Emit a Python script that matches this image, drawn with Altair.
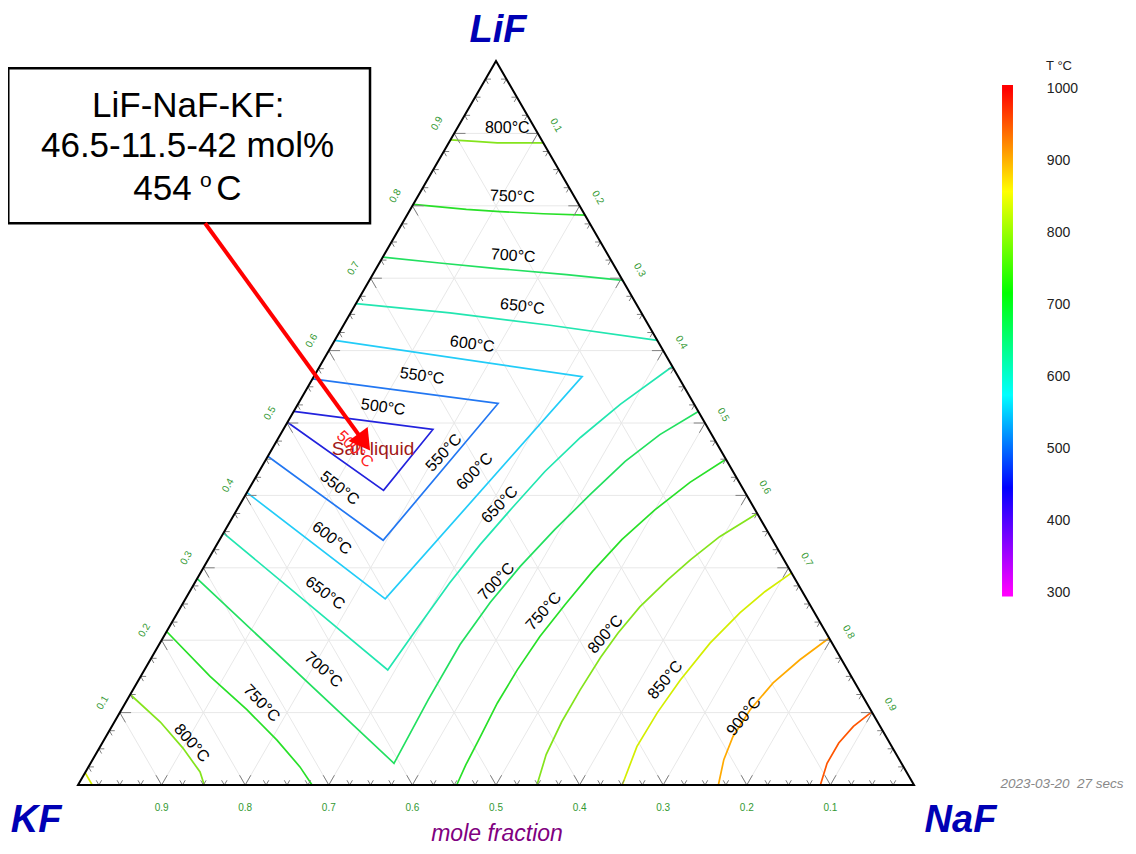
import math
import altair as alt
import pandas as pd

FONT = "Liberation Sans"
S3 = math.sqrt(3) / 2

# ---------------- isotherms: (LiF, NaF) mole fractions ----------------
iso800_top = [(0.891, 0.000), (0.889, 0.031), (0.887, 0.058), (0.887, 0.113)]
iso750_top = [(0.802, 0.000), (0.795, 0.067), (0.792, 0.109), (0.789, 0.162), (0.787, 0.213)]
iso700_top = [(0.729, 0.000), (0.721, 0.072), (0.713, 0.148), (0.705, 0.232), (0.697, 0.303)]
iso650_top = [(0.665, 0.000), (0.652, 0.119), (0.635, 0.247), (0.614, 0.386)]
iso600 = [(0.614, 0.000), (0.564, 0.321), (0.257, 0.239), (0.404, 0.000)]
iso550 = [(0.561, 0.000), (0.527, 0.239), (0.338, 0.196), (0.454, 0.000)]
iso500 = [(0.516, 0.000), (0.491, 0.179), (0.407, 0.162), (0.501, 0.000)]
iso650_low = [(0.578, 0.422), (0.526, 0.386), (0.480, 0.361), (0.433, 0.342), (0.383, 0.328),
              (0.332, 0.315), (0.279, 0.305), (0.221, 0.298), (0.159, 0.291), (0.348, 0.000)]
iso700_low = [(0.516, 0.484), (0.484, 0.454), (0.447, 0.431), (0.401, 0.412), (0.353, 0.394),
              (0.302, 0.378), (0.252, 0.367), (0.194, 0.360), (0.118, 0.360), (0.030, 0.363),
              (0.285, 0.000)]
iso750_naf = [(0.450, 0.550), (0.418, 0.523), (0.380, 0.500), (0.339, 0.481), (0.295, 0.468),
              (0.249, 0.458), (0.205, 0.450), (0.159, 0.446), (0.113, 0.445), (0.066, 0.448),
              (0.028, 0.450), (0.000, 0.453)]
iso800_naf = [(0.375, 0.625), (0.343, 0.596), (0.311, 0.577), (0.284, 0.564), (0.246, 0.549),
              (0.210, 0.541), (0.176, 0.537), (0.131, 0.535), (0.087, 0.535), (0.042, 0.539),
              (0.000, 0.549)]
iso850_naf = [(0.293, 0.707), (0.267, 0.688), (0.238, 0.673), (0.196, 0.658), (0.145, 0.648),
              (0.100, 0.643), (0.053, 0.642), (0.000, 0.651)]
iso900_naf = [(0.203, 0.797), (0.173, 0.777), (0.141, 0.761), (0.104, 0.752), (0.067, 0.750),
              (0.035, 0.755), (0.000, 0.766)]
iso950_naf = [(0.101, 0.899), (0.081, 0.887), (0.058, 0.881), (0.030, 0.881), (0.000, 0.888)]
iso750_kf = [(0.212, 0.000), (0.150, 0.083), (0.104, 0.150), (0.062, 0.207), (0.025, 0.253),
             (0.000, 0.280)]
iso800_kf = [(0.125, 0.000), (0.087, 0.055), (0.051, 0.100), (0.018, 0.137), (0.000, 0.151)]
iso850_kf = [(0.017, 0.000), (0.000, 0.017)]

iso_pieces = [
    (800, "800t", iso800_top), (750, "750t", iso750_top), (700, "700t", iso700_top),
    (650, "650t", iso650_top), (600, "600", iso600), (550, "550", iso550), (500, "500", iso500),
    (650, "650l", iso650_low), (700, "700l", iso700_low), (750, "750n", iso750_naf),
    (800, "800n", iso800_naf), (850, "850n", iso850_naf), (900, "900n", iso900_naf),
    (950, "950n", iso950_naf), (750, "750k", iso750_kf), (800, "800k", iso800_kf),
    (850, "850k", iso850_kf),
]

iso_temps = [500, 550, 600, 650, 700, 750, 800, 850, 900, 950]
iso_colors = ["#2222dd", "#2277f2", "#22ccf8", "#22e6b0", "#22e060",
              "#28e028", "#84e41c", "#d4ee00", "#ffaa00", "#ff5500"]

# isotherm labels
lab_T = [800, 750, 700, 650, 600, 550, 500,
         550, 600, 650, 700, 750, 800, 850, 900,
         550, 600, 650, 700, 750, 800]
lab_lif = [0.907, 0.813, 0.731, 0.661, 0.609, 0.565, 0.522,
           0.459, 0.433, 0.387, 0.281, 0.240, 0.208, 0.145, 0.095,
           0.410, 0.341, 0.265, 0.159, 0.113, 0.058]
lab_naf = [0.060, 0.113, 0.155, 0.201, 0.167, 0.129, 0.104,
           0.208, 0.258, 0.311, 0.360, 0.437, 0.527, 0.630, 0.749,
           0.108, 0.133, 0.163, 0.214, 0.163, 0.107]
lab_ang = [0, 2, 4, 7, 8, 8, 8,
           313, 314, 314, 313, 312, 311, 310, 309,
           38, 37, 37, 42, 46, 49]

# axis tick labels
tick_label_vals = [0.1, 0.2, 0.3, 0.4, 0.5, 0.6, 0.7, 0.8, 0.9]
tick_steps = [0.025 * i for i in range(1, 40)]

# colour bar
cb_T_labels = [1000, 900, 800, 700, 600, 500, 400, 300]
cb_stop_T = [300, 446, 575, 717, 858, 1000]
cb_stop_col = ["#ff00ff", "#0000ff", "#00ffff", "#00ff00", "#ffff00", "#ff0000"]
cb_lo, cb_hi = 295, 1006

# annotation
comp_lif, comp_naf = 0.465, 0.115
box_lines = ["LiF-NaF-KF:", "46.5-11.5-42 mol%"]


def uv(lif, naf):
    return naf + lif / 2.0, lif * S3


# ---------------- data frames ----------------
rows = []
for T, name, pts in iso_pieces:
    for i, (a, b) in enumerate(pts):
        u, v = uv(a, b)
        rows.append(dict(T=T, piece=name, i=i, u=u, v=v))
iso_df = pd.DataFrame(rows)

lab_rows = []
for T, a, b, ang in zip(lab_T, lab_lif, lab_naf, lab_ang):
    u, v = uv(a, b)
    lab_rows.append(dict(txt=f"{T}°C", u=u, v=v, ang=ang))
lab_df = pd.DataFrame(lab_rows)

grid_rows = []
for k in tick_label_vals:
    for p, q in [((k, 0), (k, 1 - k)), ((0, k), (1 - k, k)), ((0, 1 - k), (1 - k, 0))]:
        u1, v1 = uv(*p)
        u2, v2 = uv(*q)
        grid_rows.append(dict(u=u1, v=v1, u2=u2, v2=v2))
grid_df = pd.DataFrame(grid_rows)

tick_rows = []
c60, s60 = 0.5, S3
for i, t in enumerate(tick_steps, start=1):
    L = 0.0135 if i % 4 == 0 else 0.0065
    edges = [
        (uv(0, t), [(c60, s60), (-c60, s60)]),          # bottom edge
        (uv(t, 0), [(1, 0), (c60, -s60)]),              # left edge
        (uv(t, 1 - t), [(-1, 0), (-c60, -s60)]),        # right edge
    ]
    for (u0, v0), dirs in edges:
        for du, dv in dirs:
            tick_rows.append(dict(u=u0, v=v0, u2=u0 + L * du, v2=v0 + L * dv))
tick_df = pd.DataFrame(tick_rows)

tl_rows = []
for k in tick_label_vals:
    u, v = uv(0, 1 - k)          # bottom: KF fraction
    tl_rows.append(dict(txt=f"{k:.1f}", u=u, v=v - 0.0279, ang=0))
    u, v = uv(k, 0)              # left: LiF fraction
    tl_rows.append(dict(txt=f"{k:.1f}", u=u - 0.0205, v=v + 0.0118, ang=300))
    u, v = uv(1 - k, k)          # right: NaF fraction
    tl_rows.append(dict(txt=f"{k:.1f}", u=u + 0.0218, v=v + 0.0098, ang=60))
tl_df = pd.DataFrame(tl_rows)

border_pts = [(0, 0), (0, 1), (1, 0), (0, 0), (0, 1)]
border_df = pd.DataFrame([dict(i=i, u=uv(a, b)[0], v=uv(a, b)[1]) for i, (a, b) in enumerate(border_pts)])

XS = alt.Scale(domain=[-70 / 836, 1050 / 836], nice=False, zero=False)
YS = alt.Scale(domain=[-61 / 836, 777 / 836], nice=False, zero=False)
X = alt.X("u:Q", scale=XS, axis=None)
Y = alt.Y("v:Q", scale=YS, axis=None)

grid = alt.Chart(grid_df).mark_rule(color="#e8e8e8", strokeWidth=1).encode(x=X, y=Y, x2="u2:Q", y2="v2:Q")

contours = alt.Chart(iso_df).mark_line(strokeWidth=1.7).encode(
    x=X, y=Y,
    color=alt.Color("T:O", scale=alt.Scale(domain=iso_temps, range=iso_colors), legend=None),
    detail="piece:N", order="i:Q",
)

ticks = alt.Chart(tick_df).mark_rule(color="#808080", strokeWidth=1).encode(x=X, y=Y, x2="u2:Q", y2="v2:Q")

border = alt.Chart(border_df).mark_line(color="black", strokeWidth=2, strokeJoin="miter").encode(
    x=X, y=Y, order="i:Q")

iso_labels = alt.Chart(lab_df).mark_text(font=FONT, fontSize=16, color="black",
                                          align="center", baseline="middle").encode(
    x=X, y=Y, text="txt:N", angle=alt.Angle("ang:Q", scale=None))

tick_labels = alt.Chart(tl_df).mark_text(font=FONT, fontSize=10, color="#339933",
                                         align="center", baseline="middle").encode(
    x=X, y=Y, text="txt:N", angle=alt.Angle("ang:Q", scale=None))

vert_df = pd.DataFrame(dict(txt=["LiF", "KF", "NaF"], u=[0.5024, -0.0502, 1.0556],
                            v=[0.8882, -0.0562, -0.0562]))
vertex_labels = alt.Chart(vert_df).mark_text(font=FONT, fontSize=38, fontWeight="bold",
                                             fontStyle="italic", color="#0000b4",
                                             align="center", baseline="alphabetic").encode(
    x=X, y=Y, text="txt:N")

mole_df = pd.DataFrame(dict(txt=["mole fraction"], u=[0.5012], v=[-0.0670]))
mole = alt.Chart(mole_df).mark_text(font=FONT, fontSize=23, fontStyle="italic", color="#800080",
                                    align="center", baseline="alphabetic").encode(x=X, y=Y, text="txt:N")

date_df = pd.DataFrame(dict(txt=["2023-03-20 \u00a027 secs"], u=[1.177], v=[0.001]))
date = alt.Chart(date_df).mark_text(font=FONT, fontSize=13.5, fontStyle="italic", color="#888888",
                                    align="center", baseline="middle").encode(x=X, y=Y, text="txt:N")

# annotation box
box_df = pd.DataFrame(dict(u=[-0.0834], u2=[0.3493], v=[0.6719], v2=[0.8573]))
box = alt.Chart(box_df).mark_rect(fill="white", stroke="black", strokeWidth=2.5).encode(
    x=X, x2="u2:Q", y=Y, y2="v2:Q")
bt_df = pd.DataFrame(dict(txt=box_lines, u=[0.1319, 0.1310], v=[0.7994, 0.7516]))
box_text = alt.Chart(bt_df).mark_text(font=FONT, fontSize=35, color="black", align="center",
                                      baseline="alphabetic").encode(x=X, y=Y, text="txt:N")
t3a = alt.Chart(pd.DataFrame(dict(txt=["454"], u=[0.1360], v=[0.6998]))).mark_text(
    font=FONT, fontSize=35, color="black", align="right", baseline="alphabetic").encode(x=X, y=Y, text="txt:N")
t3b = alt.Chart(pd.DataFrame(dict(txt=["o"], u=[0.1530], v=[0.7153]))).mark_text(
    font=FONT, fontSize=21, color="black", align="center", baseline="alphabetic").encode(x=X, y=Y, text="txt:N")
t3c = alt.Chart(pd.DataFrame(dict(txt=["C"], u=[0.1655], v=[0.6998]))).mark_text(
    font=FONT, fontSize=35, color="black", align="left", baseline="alphabetic").encode(x=X, y=Y, text="txt:N")

salt = alt.Chart(pd.DataFrame(dict(txt=["Salt liquid"], u=[0.3529], v=[0.4019]))).mark_text(
    font=FONT, fontSize=19, color="#a01818", align="center", baseline="middle").encode(x=X, y=Y, text="txt:N")
red_lab = alt.Chart(pd.DataFrame(dict(txt=["500°C"], u=[0.3313], v=[0.4019]))).mark_text(
    font=FONT, fontSize=16, color="#ff2020", align="center", baseline="middle", angle=45).encode(
    x=X, y=Y, text="txt:N")

# arrow from box to the composition
arrow_start = (0.152, 0.672)
tu, tv = uv(comp_lif, comp_naf)
du, dv = tu - arrow_start[0], tv - arrow_start[1]
n = math.hypot(du, dv)
du, dv = du / n, dv / n
arrow_df = pd.DataFrame(dict(u=[arrow_start[0]], v=[arrow_start[1]],
                             u2=[tu - 0.013 * du], v2=[tv - 0.013 * dv]))
arrow = alt.Chart(arrow_df).mark_rule(color="#ff0000", strokeWidth=4).encode(x=X, y=Y, x2="u2:Q", y2="v2:Q")
head_ang = math.degrees(math.atan2(-dv, du)) % 360
head_df = pd.DataFrame(dict(u=[tu - 0.0090 * du], v=[tv - 0.0090 * dv]))
head = alt.Chart(head_df).mark_point(shape="triangle-right", filled=True, size=560, color="#ff0000",
                                     opacity=1, angle=head_ang).encode(x=X, y=Y)

# colour bar (own y scale in temperature)
CBY = alt.Scale(domain=[300, 1000], range=[584.9, 81.3], nice=False, zero=False)
grad = alt.LinearGradient(
    gradient="linear", x1=0, x2=0, y1=1, y2=0,
    stops=[alt.GradientStop(offset=(t - cb_lo) / (cb_hi - cb_lo), color=c)
           for t, c in zip(cb_stop_T, cb_stop_col)],
)
cb_df = pd.DataFrame(dict(u=[1.1053], u2=[1.1184], t0=[cb_lo], t1=[cb_hi]))
cbar = alt.Chart(cb_df).mark_rect(fill=grad).encode(
    x=X, x2="u2:Q", y=alt.Y("t0:Q", scale=CBY, axis=None), y2="t1:Q")
cbl_df = pd.DataFrame(dict(t=cb_T_labels, txt=[str(t) for t in cb_T_labels], u=[1.1589] * len(cb_T_labels)))
cb_labels = alt.Chart(cbl_df).mark_text(font=FONT, fontSize=14, color="#222222", align="left",
                                        baseline="middle").encode(
    x=X, y=alt.Y("t:Q", scale=CBY, axis=None), text="txt:N")
cb_title = alt.Chart(pd.DataFrame(dict(txt=["T °C"], u=[1.1580], v=[0.8600]))).mark_text(
    font=FONT, fontSize=13, color="#222222", align="left", baseline="middle").encode(x=X, y=Y, text="txt:N")

chart = alt.layer(
    grid, contours, ticks, border, iso_labels, tick_labels, vertex_labels, mole, date,
    box, box_text, t3a, t3b, t3c, salt, red_lab, arrow, head, cbar, cb_labels, cb_title,
).resolve_scale(y="independent").properties(
    width=1120, height=838, padding=0, autosize=alt.AutoSizeParams(type="none"),
).configure_view(stroke=None)

chart.save("out.html", embed_options={"renderer": "svg", "actions": False})
